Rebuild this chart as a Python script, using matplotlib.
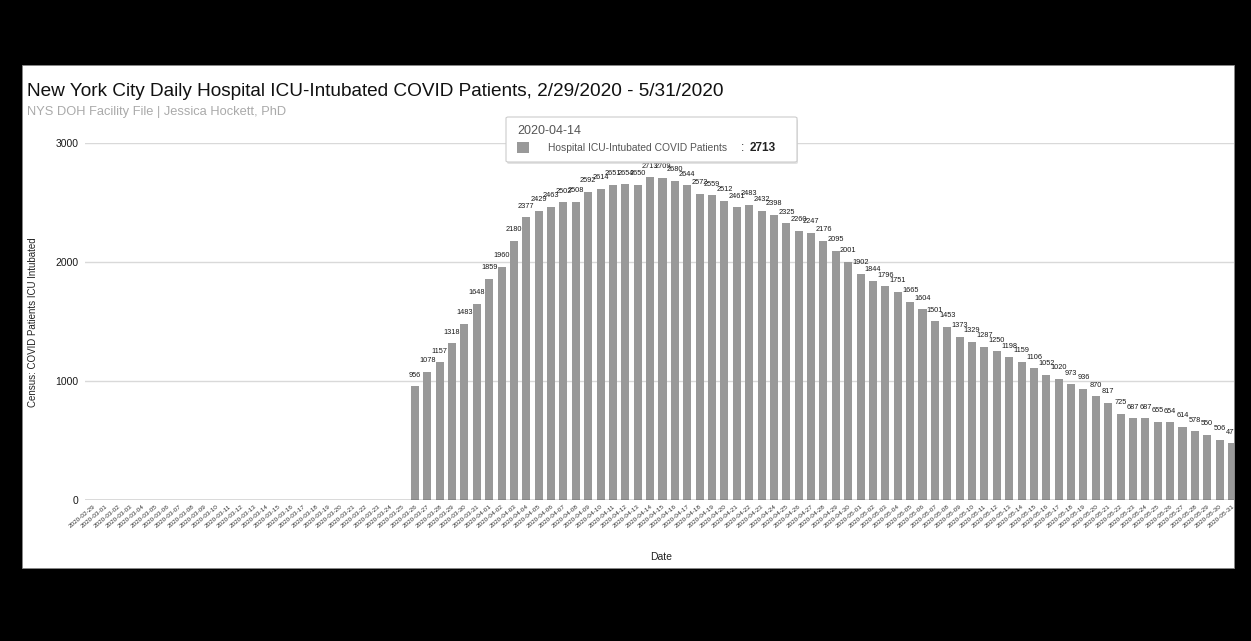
import matplotlib
matplotlib.use("Agg")
import matplotlib.pyplot as plt
from matplotlib.patches import Rectangle, FancyBboxPatch
import pandas as pd
import numpy as np

plt.rcParams['font.family'] = ['Liberation Sans', 'DejaVu Sans']

# ---- data ----
dates = [d.strftime("%Y-%m-%d") for d in pd.date_range("2020-02-29", "2020-05-31")]
values = [None] * 26 + [
    956, 1078, 1157, 1318, 1483, 1648,                      # 03-26 .. 03-31
    1859, 1960, 2180, 2377, 2429, 2463, 2502, 2508, 2592, 2614,  # 04-01 .. 04-10
    2651, 2654, 2650, 2713, 2709, 2680, 2644, 2572, 2559, 2512,  # 04-11 .. 04-20
    2461, 2483, 2432, 2398, 2325, 2260, 2247, 2176, 2095, 2001,  # 04-21 .. 04-30
    1902, 1844, 1796, 1751, 1665, 1604, 1501, 1453, 1373, 1329,  # 05-01 .. 05-10
    1287, 1250, 1198, 1159, 1106, 1052, 1020, 973, 936, 870,     # 05-11 .. 05-20
    817, 725, 687, 687, 655, 654, 614, 578, 550, 506, 477,       # 05-21 .. 05-31
]
yticks = [0, 1000, 2000, 3000]
title = "New York City Daily Hospital ICU-Intubated COVID Patients, 2/29/2020 - 5/31/2020"
subtitle = "NYS DOH Facility File | Jessica Hockett, PhD"
series_name = "Hospital ICU-Intubated COVID Patients"
tooltip_date = "2020-04-14"
tooltip_value = 2713

W, H = 1251, 641
fig = plt.figure(figsize=(W / 100, H / 100), dpi=100, facecolor='black')

# white panel
fig.patches.append(Rectangle((22 / W, 1 - 568 / H), (1234 - 22) / W, (568 - 65) / H,
                             transform=fig.transFigure, facecolor='white',
                             edgecolor='#888888', lw=0.6, zorder=-5))

ax = fig.add_axes([85 / W, 1 - 500 / H, (1234 - 85) / W, (500 - 143) / H])
ax.set_zorder(1)
ax.set_facecolor('white')

x = np.arange(len(dates))
vals = np.array([np.nan if v is None else v for v in values], dtype=float)
bar_color = '#999999'
ax.bar(x, vals, width=0.65, color=bar_color, zorder=3)

for xi, v in zip(x, values):
    if v is None:
        continue
    ax.annotate(str(v), (xi, v), xytext=(0, 8), textcoords='offset points',
                ha='center', va='center', fontsize=5.3, color='#1a1a1a',
                zorder=4, clip_on=True, annotation_clip=False)

ax.set_xlim(-0.646, 92.16)
ax.set_ylim(0, 3000)
for s in ax.spines.values():
    s.set_visible(False)
for t in yticks[1:]:
    ax.axhline(t, color='#d9d9d9', lw=1, zorder=1)
ax.axhline(0, color='#444444', lw=1, zorder=5)

ax.set_yticks(yticks)
ax.set_yticklabels([str(t) for t in yticks], fontsize=7.5, color='#1a1a1a')
ax.tick_params(axis='y', length=0, pad=4.5)
ax.set_xticks(x)
ax.set_xticklabels(dates, rotation=40, ha='right', rotation_mode='anchor',
                   fontsize=4.6, color='#333333')
ax.tick_params(axis='x', length=0, pad=3)

# titles
fig.text(27 / W, 1 - 91 / H, title, fontsize=13.7, color='#111111', va='center', ha='left')
fig.text(27 / W, 1 - 112 / H, subtitle, fontsize=9.3, color='#aaaaaa', va='center', ha='left')

# axis titles
fig.text(33 / W, 1 - 322 / H, "Census: COVID Patients ICU Intubated", rotation=90,
         fontsize=7, color='#222222', va='center', ha='center')
fig.text(661 / W, 1 - 557 / H, "Date", fontsize=7.5, color='#222222', va='center', ha='center')

# tooltip
bx0, by0, bx1, by1 = 506, 117, 797, 162
shadow = FancyBboxPatch((bx0 / W + 1 / W, 1 - (by1 + 2) / H), (bx1 - bx0) / W, (by1 - by0) / H,
                        boxstyle="round,pad=0,rounding_size=0.002", transform=fig.transFigure,
                        facecolor='#d0d0d0', edgecolor='none', zorder=10, alpha=0.6)
fig.patches.append(shadow)
box = FancyBboxPatch((bx0 / W, 1 - by1 / H), (bx1 - bx0) / W, (by1 - by0) / H,
                     boxstyle="round,pad=0,rounding_size=0.002", transform=fig.transFigure,
                     facecolor='white', edgecolor='#cccccc', lw=0.8, zorder=11)
fig.patches.append(box)
fig.text(517 / W, 1 - 131 / H, tooltip_date, fontsize=9, color='#555555',
         va='center', ha='left', zorder=12)
fig.patches.append(Rectangle((517 / W, 1 - 153 / H), 12 / W, 11 / H, transform=fig.transFigure,
                             facecolor=bar_color, edgecolor='none', zorder=12))
fig.text(548 / W, 1 - 148 / H, series_name, fontsize=7.4, color='#555555',
         va='center', ha='left', zorder=12)
fig.text(741 / W, 1 - 148 / H, ": ", fontsize=8.5, color='#222222',
         va='center', ha='left', zorder=12)
fig.text(750 / W, 1 - 148 / H, str(tooltip_value), fontsize=8.5, color='#222222',
         fontweight='bold', va='center', ha='left', zorder=12)

fig.savefig("out.png", dpi=100, facecolor=fig.get_facecolor())
